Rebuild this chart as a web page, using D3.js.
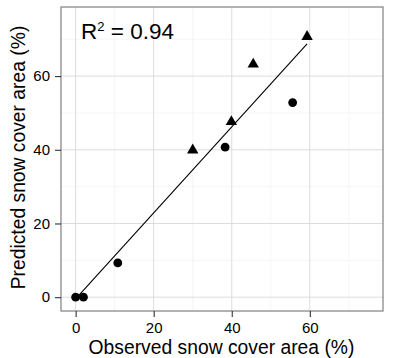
<!DOCTYPE html>
<html><head><meta charset="utf-8">
<script src="https://cdn.jsdelivr.net/npm/d3@7"></script>
<style>body{margin:0;background:#fff}svg{display:block}text{font-family:"Liberation Sans",Arial,Helvetica,sans-serif}</style>
</head><body><svg id="c" width="399" height="358"></svg>
<script>
// Data
const circleObs  = [0, 2, 10.8, 38.3, 55.6];
const circlePred = [0, 0, 9.3, 40.7, 52.8];
const triObs  = [30.0, 39.9, 45.5, 59.3];
const triPred = [39.9, 47.6, 63.2, 70.7];
const xTicks = [0, 20, 40, 60];
const yTicks = [0, 20, 40, 60];
const minorTicks = [10, 30, 50, 70];
const r2Label = "0.94";

const svg = d3.select("#c");
const L = 61, R = 383, T = 7, B = 311;
const x = d3.scaleLinear().domain([-3.75, 78.75]).range([L, R]);
const y = d3.scaleLinear().domain([-3.75, 78.75]).range([B, T]);

const g = svg.append("g");
g.append("rect").attr("x", L).attr("y", T).attr("width", R - L).attr("height", B - T).attr("fill", "#fff");
// minor grid
g.selectAll(".mx").data(minorTicks).join("line").attr("x1", d => x(d)).attr("x2", d => x(d)).attr("y1", T).attr("y2", B).attr("stroke", "#f2f2f2").attr("stroke-width", 0.8);
g.selectAll(".my").data(minorTicks).join("line").attr("y1", d => y(d)).attr("y2", d => y(d)).attr("x1", L).attr("x2", R).attr("stroke", "#f2f2f2").attr("stroke-width", 0.8);
// major grid
g.selectAll(".gx").data(xTicks).join("line").attr("x1", d => x(d)).attr("x2", d => x(d)).attr("y1", T).attr("y2", B).attr("stroke", "#dcdcdc").attr("stroke-width", 1);
g.selectAll(".gy").data(yTicks).join("line").attr("y1", d => y(d)).attr("y2", d => y(d)).attr("x1", L).attr("x2", R).attr("stroke", "#dcdcdc").attr("stroke-width", 1);

// regression line computed from the data
const allX = circleObs.concat(triObs), allY = circlePred.concat(triPred);
const mx = d3.mean(allX), my = d3.mean(allY);
const sxy = d3.sum(allX, (v, i) => (v - mx) * (allY[i] - my));
const sxx = d3.sum(allX, v => (v - mx) ** 2);
const slope = sxy / sxx, icpt = my - slope * mx;
const xr = d3.extent(allX);
svg.append("line").attr("x1", x(xr[0])).attr("y1", y(icpt + slope * xr[0]))
  .attr("x2", x(xr[1])).attr("y2", y(icpt + slope * xr[1]))
  .attr("stroke", "#000").attr("stroke-width", 1.1);

// points
svg.selectAll(".pc").data(circleObs).join("circle")
  .attr("cx", d => x(d)).attr("cy", (d, i) => y(circlePred[i])).attr("r", 4.4).attr("fill", "#000");
const tri = d3.symbol().type(d3.symbolTriangle).size(56);
svg.selectAll(".pt").data(triObs).join("path")
  .attr("d", tri).attr("transform", (d, i) => `translate(${x(d)},${y(triPred[i])})`).attr("fill", "#000");

// panel border
svg.append("rect").attr("x", L).attr("y", T).attr("width", R - L).attr("height", B - T).attr("fill", "none").attr("stroke", "#7f7f7f").attr("stroke-width", 1.2);

// axes
const xa = svg.append("g").attr("transform", `translate(0,${B})`)
  .call(d3.axisBottom(x).tickValues(xTicks).tickSize(6).tickPadding(5));
const ya = svg.append("g").attr("transform", `translate(${L},0)`)
  .call(d3.axisLeft(y).tickValues(yTicks).tickSize(6).tickPadding(5));
[xa, ya].forEach(a => {
  a.select(".domain").remove();
  a.selectAll(".tick line").attr("stroke", "#333").attr("stroke-width", 1.1);
  a.selectAll(".tick text").attr("fill", "#000").style("font-size", "15px").style("font-family", '"Liberation Sans",Arial,sans-serif');
});

// titles
svg.append("text").attr("x", 221.5).attr("y", 354).attr("text-anchor", "middle")
  .style("font-size", "19.3px").text("Observed snow cover area (%)");
svg.append("text").attr("transform", `translate(25,157.5) rotate(-90)`).attr("text-anchor", "middle")
  .style("font-size", "19.3px").text("Predicted snow cover area (%)");

// R² annotation
const rt = svg.append("text").attr("x", 81).attr("y", 39).style("font-size", "22.5px").attr("fill", "#000");
rt.append("tspan").text("R");
rt.append("tspan").attr("dy", -8).style("font-size", "13px").text("2");
rt.append("tspan").attr("dy", 8).text(" = " + r2Label);
</script></body></html>
